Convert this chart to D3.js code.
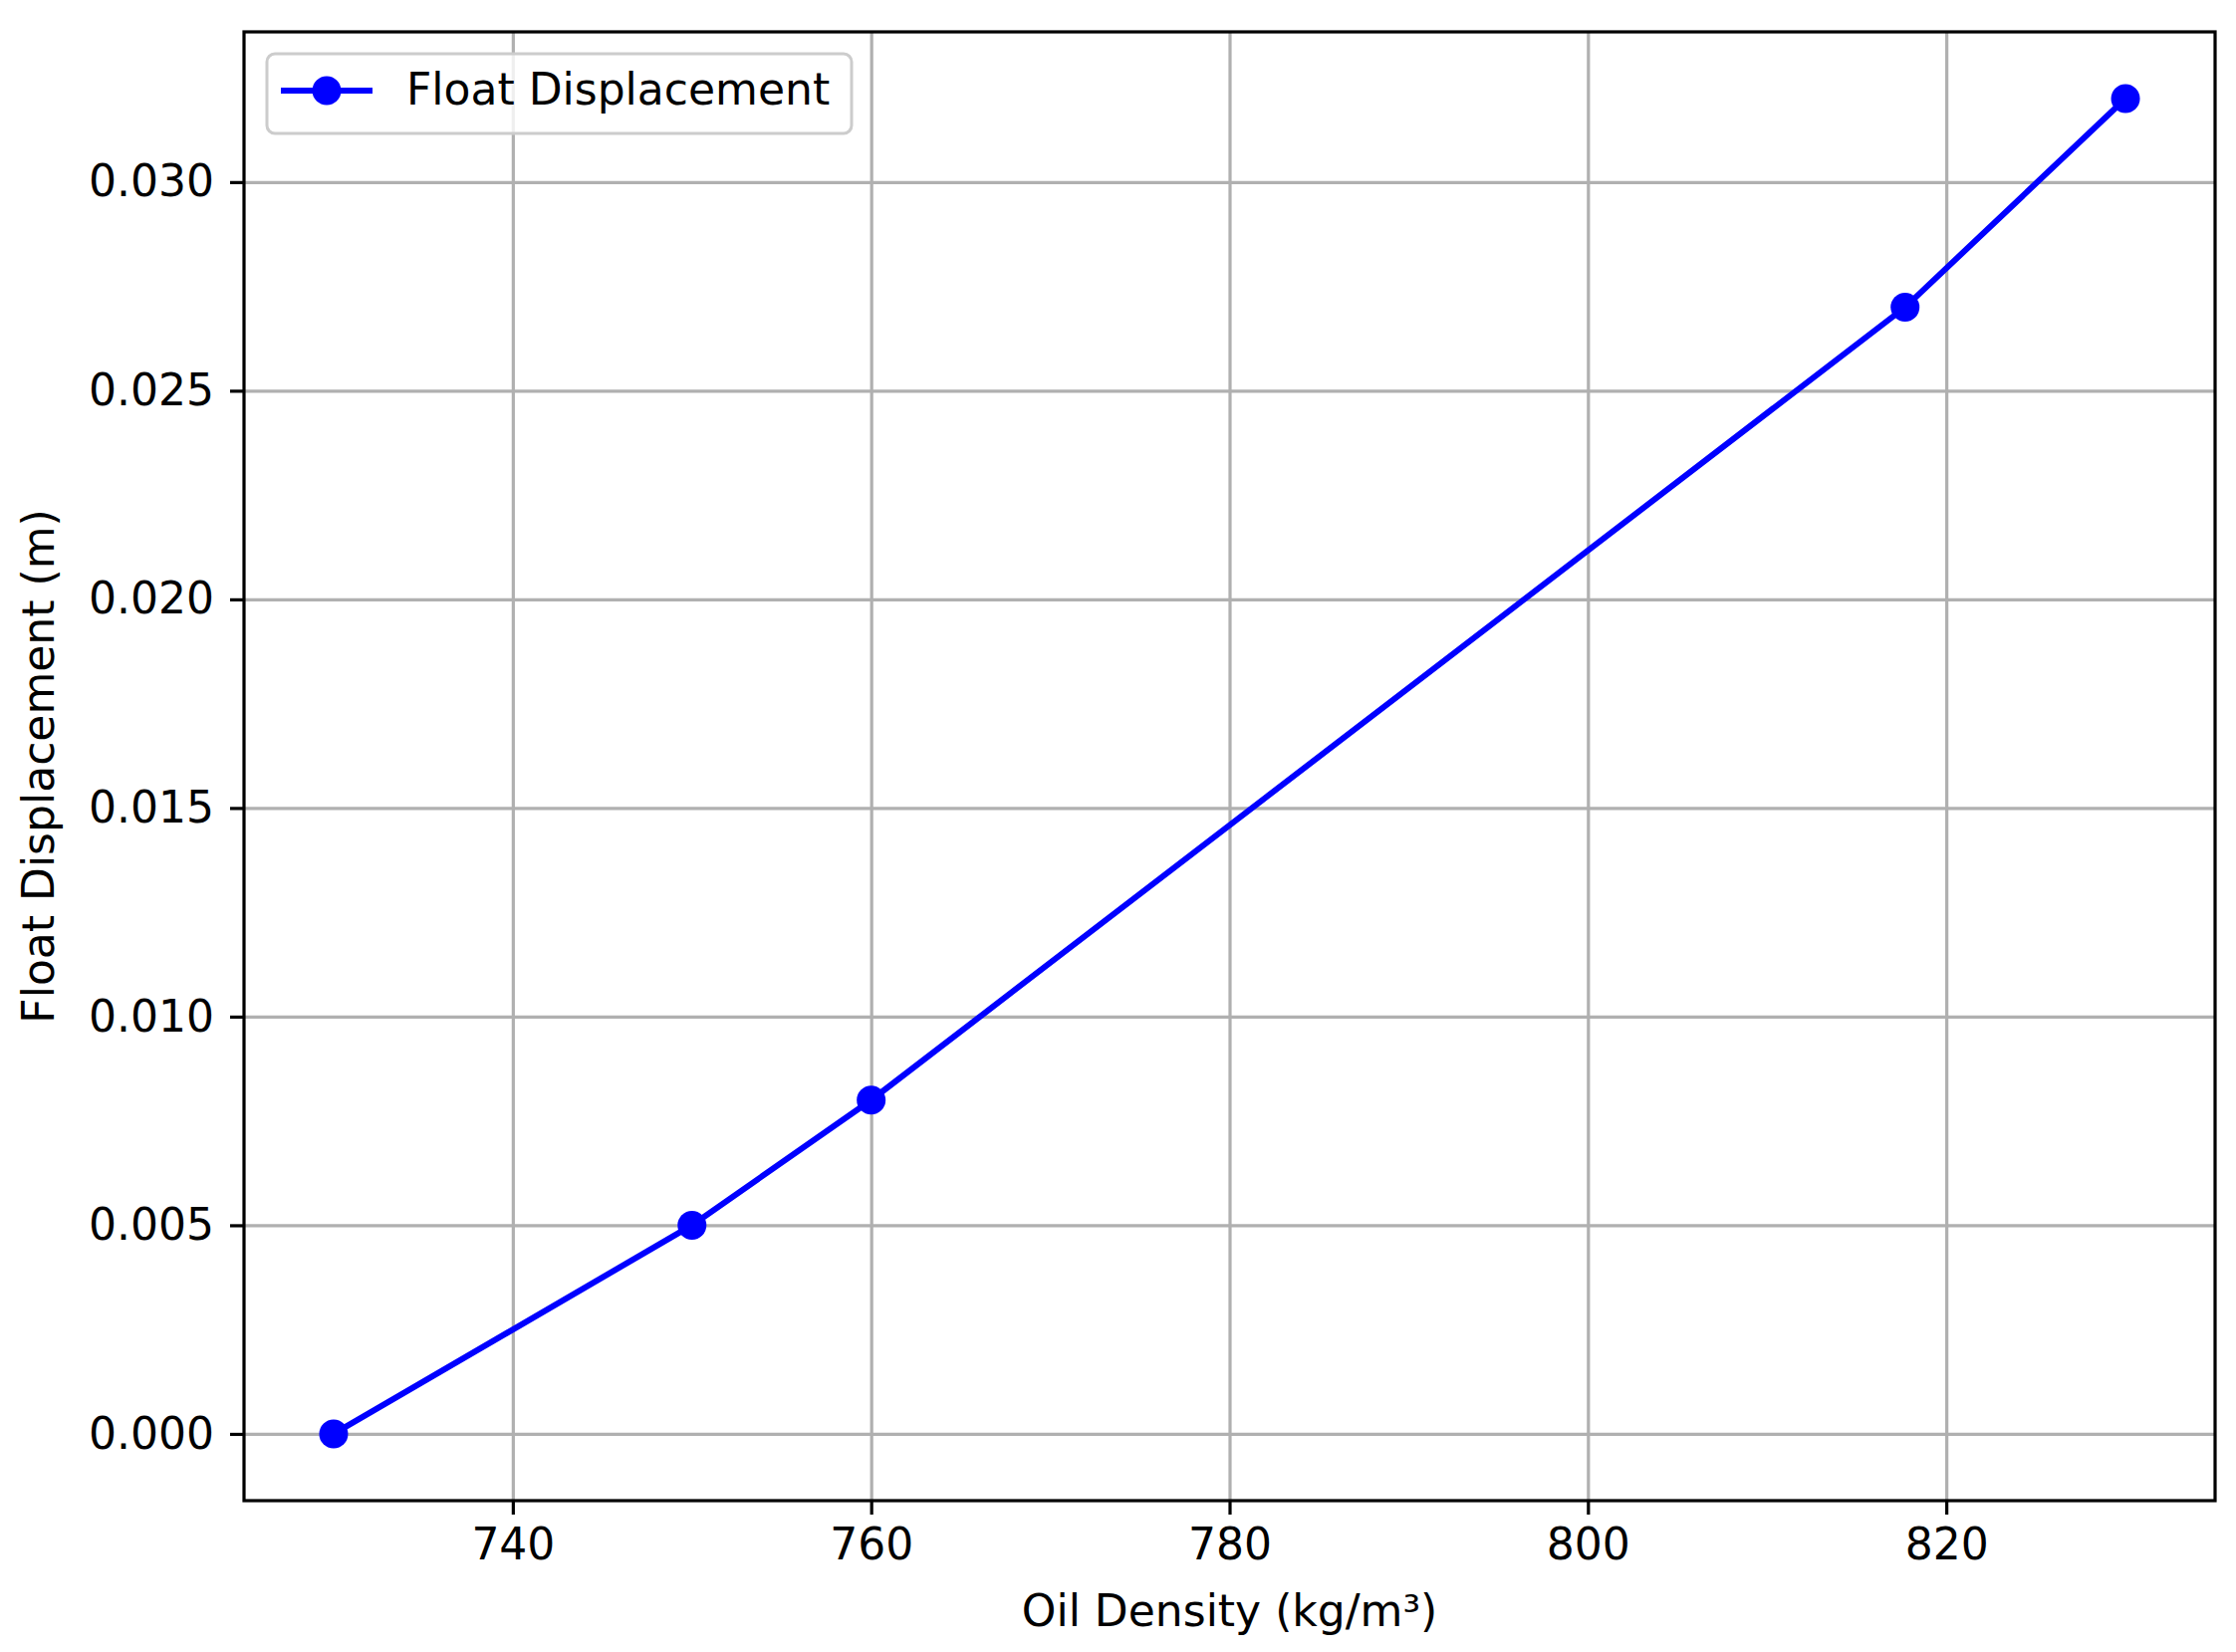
<!DOCTYPE html>
<html lang="en">
<head>
    <meta charset="UTF-8">
    <title>Float Displacement vs Oil Density</title>
    <script src="https://d3js.org/d3.v7.min.js"></script>
    <style>
        body { margin: 0; background: #fff; }
        text { font-family: "DejaVu Sans", sans-serif; fill: #000; }
    </style>
</head>
<body>
<svg></svg>
<script>
    // data
    var density = [730, 750, 760, 817.7, 830];
    var displacement = [0.000, 0.005, 0.008, 0.027, 0.032];
    var xTicks = [740, 760, 780, 800, 820];
    var yTicks = [0.000, 0.005, 0.010, 0.015, 0.020, 0.025, 0.030];
    var seriesName = "Float Displacement";
    var xLabel = "Oil Density (kg/m\u00b3)";
    var yLabel = "Float Displacement (m)";

    var width = 2245;
    var height = 1659;
    var margin = {left: 245, right: 21, top: 32, bottom: 152};
    var plotW = width - margin.left - margin.right;
    var plotH = height - margin.top - margin.bottom;
    var fontSize = 44;

    var svg = d3.select("svg")
            .attr("width", width)
            .attr("height", height);

    // matplotlib style 5% margins around the data
    var xMin = d3.min(density), xMax = d3.max(density);
    var yMin = d3.min(displacement), yMax = d3.max(displacement);
    var xPad = (xMax - xMin) * 0.05, yPad = (yMax - yMin) * 0.05;

    var xScale = d3.scaleLinear()
            .domain([xMin - xPad, xMax + xPad])
            .range([0, plotW]);
    var yScale = d3.scaleLinear()
            .domain([yMin - yPad, yMax + yPad])
            .range([plotH, 0]);

    var g = svg.append("g")
            .attr("transform", "translate(" + margin.left + "," + margin.top + ")");

    // grid
    var xGrid = g.append("g")
            .attr("transform", "translate(0," + plotH + ")")
            .call(d3.axisBottom(xScale).tickValues(xTicks).tickSize(-plotH).tickFormat(""));
    var yGrid = g.append("g")
            .call(d3.axisLeft(yScale).tickValues(yTicks).tickSize(-plotW).tickFormat(""));
    [xGrid, yGrid].forEach(function (grid) {
        grid.select(".domain").remove();
        grid.selectAll("line").attr("stroke", "#b0b0b0").attr("stroke-width", 3.2);
    });

    // line + markers
    var points = density.map(function (d, i) { return [d, displacement[i]]; });
    var line = d3.line()
            .x(function (d) { return xScale(d[0]); })
            .y(function (d) { return yScale(d[1]); });

    g.append("path")
            .datum(points)
            .attr("fill", "none")
            .attr("stroke", "#0000ff")
            .attr("stroke-width", 6)
            .attr("d", line);

    g.selectAll("circle.pt")
            .data(points)
            .enter()
            .append("circle")
            .attr("class", "pt")
            .attr("cx", function (d) { return xScale(d[0]); })
            .attr("cy", function (d) { return yScale(d[1]); })
            .attr("r", 14.5)
            .attr("fill", "#0000ff");

    // axes
    var xAxis = g.append("g")
            .attr("transform", "translate(0," + plotH + ")")
            .call(d3.axisBottom(xScale).tickValues(xTicks).tickSize(14).tickPadding(14)
                    .tickFormat(d3.format("d")));
    var yAxis = g.append("g")
            .call(d3.axisLeft(yScale).tickValues(yTicks).tickSize(14).tickPadding(16)
                    .tickFormat(d3.format(".3f")));
    [xAxis, yAxis].forEach(function (ax) {
        ax.select(".domain").remove();
        ax.selectAll("line").attr("stroke", "#000").attr("stroke-width", 3.2);
        ax.selectAll("text")
                .style("font-family", "'DejaVu Sans', sans-serif")
                .style("font-size", fontSize + "px")
                .attr("fill", "#000");
    });

    // frame
    g.append("rect")
            .attr("x", 0)
            .attr("y", 0)
            .attr("width", plotW)
            .attr("height", plotH)
            .attr("fill", "none")
            .attr("stroke", "#000")
            .attr("stroke-width", 3.2);

    // axis labels
    svg.append("text")
            .attr("x", margin.left + plotW / 2)
            .attr("y", 1633)
            .attr("text-anchor", "middle")
            .style("font-size", fontSize + "px")
            .text(xLabel);

    svg.append("text")
            .attr("transform", "translate(54," + (margin.top + plotH / 2) + ") rotate(-90)")
            .attr("text-anchor", "middle")
            .style("font-size", fontSize + "px")
            .text(yLabel);

    // legend
    var legend = svg.append("g").attr("transform", "translate(268,54)");
    legend.append("rect")
            .attr("width", 587)
            .attr("height", 80)
            .attr("rx", 8)
            .attr("fill", "#fff")
            .attr("fill-opacity", 0.8)
            .attr("stroke", "#cccccc")
            .attr("stroke-width", 3);
    legend.append("line")
            .attr("x1", 14).attr("x2", 106)
            .attr("y1", 37).attr("y2", 37)
            .attr("stroke", "#0000ff")
            .attr("stroke-width", 6);
    legend.append("circle")
            .attr("cx", 60).attr("cy", 37)
            .attr("r", 14.5)
            .attr("fill", "#0000ff");
    legend.append("text")
            .attr("x", 140)
            .attr("y", 51)
            .style("font-size", fontSize + "px")
            .text(seriesName);
</script>
</body>
</html>
